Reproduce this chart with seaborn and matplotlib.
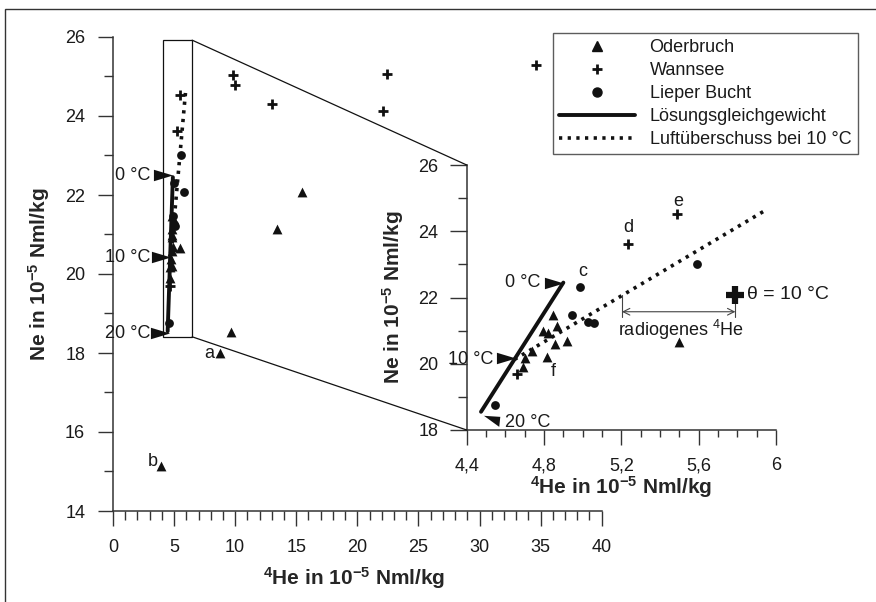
import matplotlib
matplotlib.use('Agg')
import matplotlib.pyplot as plt
import seaborn as sns
from matplotlib.lines import Line2D
from matplotlib.patches import Rectangle, ConnectionPatch
from matplotlib.ticker import MultipleLocator

# Oderbruch (triangles)
oder_he = [4.849, 4.866, 4.797, 4.823, 4.918, 4.858, 4.737, 4.702, 4.814, 4.69, 5.496,
           15.5, 13.4, 9.67, 8.72, 3.9]
oder_ne = [21.47, 21.14, 20.99, 20.94, 20.69, 20.59, 20.39, 20.17, 20.20, 19.89, 20.67,
           22.07, 21.14, 18.53, 17.99, 15.15]
# Wannsee (crosses)
wann_he = [4.66, 5.234, 5.488, 9.86, 10.0, 13.0, 22.46, 22.1, 34.6]
wann_ne = [19.69, 23.61, 24.52, 25.04, 24.78, 24.30, 25.06, 24.13, 25.29]
# Lieper Bucht (circles)
lieper_he = [4.987, 4.947, 5.03, 5.056, 4.547, 5.59]
lieper_ne = [22.31, 21.47, 21.27, 21.22, 18.76, 23.0]
# sample with theta = 10 °C
theta_he = [5.79]
theta_ne = [22.08]

# Lösungsgleichgewicht und Luftüberschuss bei 10 °C
sol_he = [4.474, 4.90]
sol_ne = [18.55, 22.45]
air_he = [4.647, 5.95]
air_ne = [20.13, 24.65]

# temperature markers
temp_labels = ['0 °C', '10 °C', '20 °C']
temp_he_main = [4.06, 3.89, 3.81]
temp_ne_main = [22.5, 20.42, 18.5]
temp_he_in = [4.85, 4.601, 4.541]
temp_ne_in = [22.45, 20.17, 18.33]

# radiogenic excess
radio_he = [5.203, 5.79]
radio_ne = 21.57

main_xticks = [0, 5, 10, 15, 20, 25, 30, 35, 40]
main_yticks = [14, 16, 18, 20, 22, 24, 26]
in_xticks = [4.4, 4.8, 5.2, 5.6, 6.0]
in_xlabels = ['4,4', '4,8', '5,2', '5,6', '6']
in_yticks = [18, 20, 22, 24, 26]

sns.set_style('ticks')
plt.rcParams['font.family'] = ['Liberation Sans', 'DejaVu Sans']
plt.rcParams['font.size'] = 13
plt.rcParams['mathtext.fontset'] = 'custom'
plt.rcParams['mathtext.rm'] = 'Liberation Sans'
plt.rcParams['mathtext.it'] = 'Liberation Sans:italic'
plt.rcParams['mathtext.bf'] = 'Liberation Sans:bold'
plt.rcParams['text.color'] = '#1a1a1a'
plt.rcParams['axes.edgecolor'] = '#333333'
plt.rcParams['xtick.color'] = '#333333'
plt.rcParams['ytick.color'] = '#333333'
plt.rcParams['xtick.labelcolor'] = '#1a1a1a'
plt.rcParams['ytick.labelcolor'] = '#1a1a1a'

K = '#111111'
arrow_r = [(-1, -0.6), (1, 0), (-1, 0.6)]
arrow_dr = [(-1, 0.35), (0.55, 0.25), (0.45, -0.7)]
he_label = r'$\mathbf{^{4}}$He in 10$\mathbf{^{-5}}$ Nml/kg'
ne_label = r'Ne in 10$\mathbf{^{-5}}$ Nml/kg'
LAB = 15

fig = plt.figure(figsize=(8.76, 6.02), dpi=100)
ax = fig.add_axes([113 / 876, 1 - 511 / 602, 488.7 / 876, 474 / 602])
ax_in = fig.add_axes([466.7 / 876, 1 - 430 / 602, 309.3 / 876, 265 / 602])


def draw_data(a):
    sns.lineplot(x=sol_he, y=sol_ne, color=K, lw=2.8, ax=a)
    sns.lineplot(x=air_he, y=air_ne, color=K, lw=2.6, linestyle=(0, (0.9, 1.5)), ax=a)
    sns.scatterplot(x=oder_he, y=oder_ne, marker='^', s=50, color=K, linewidth=0, ax=a, zorder=3)
    sns.scatterplot(x=wann_he, y=wann_ne, marker='+', s=50, color=K, linewidth=2, ax=a, zorder=3)
    sns.scatterplot(x=lieper_he, y=lieper_ne, marker='o', s=40, color=K, linewidth=0, ax=a, zorder=3)


# main plot
draw_data(ax)
sns.scatterplot(x=theta_he, y=theta_ne, marker='o', s=40, color=K, linewidth=0, ax=ax, zorder=3)
sns.scatterplot(x=temp_he_main, y=temp_ne_main, marker=arrow_r, s=190, color=K, linewidth=0,
                ax=ax, zorder=4)
for lab, yv in zip(temp_labels, temp_ne_main):
    ax.text(3.03, yv, lab, ha='right', va='center', fontsize=13)
ax.text(8.28, 18.0, 'a', ha='right', va='center', fontsize=13)
ax.text(3.69, 15.25, 'b', ha='right', va='center', fontsize=13)

ax.set_xlim(0, 40)
ax.set_ylim(14, 26)
ax.set_xticks(main_xticks)
ax.set_yticks(main_yticks)
ax.xaxis.set_minor_locator(MultipleLocator(1))
ax.yaxis.set_minor_locator(MultipleLocator(1))
ax.tick_params(which='major', direction='out', length=11, width=1, pad=9, labelsize=13)
ax.tick_params(which='minor', direction='out', length=6.5, width=1)
sns.despine(ax=ax)
for s in ['left', 'bottom']:
    ax.spines[s].set_linewidth(1.1)
ax.set_xlabel(he_label, fontsize=LAB, fontweight='bold')
ax.set_ylabel(ne_label, fontsize=LAB, fontweight='bold')
ax.xaxis.set_label_coords(0.493, -0.114)
ax.yaxis.set_label_coords(-0.125, 0.5)
ax.add_patch(Rectangle((4.1, 18.41), 2.38, 7.51, fill=False, lw=0.9, ec=K, zorder=2))

# inset
draw_data(ax_in)
sns.scatterplot(x=theta_he, y=theta_ne, marker='+', s=150, color=K, linewidth=4.5, ax=ax_in, zorder=4)
sns.scatterplot(x=temp_he_in[:2], y=temp_ne_in[:2], marker=arrow_r, s=190, color=K, linewidth=0,
                ax=ax_in, zorder=4)
sns.scatterplot(x=temp_he_in[2:], y=temp_ne_in[2:], marker=arrow_dr, s=230, color=K, linewidth=0,
                ax=ax_in, zorder=4)
ax_in.text(4.78, 22.45, temp_labels[0], ha='right', va='center', fontsize=13)
ax_in.text(4.536, 20.12, temp_labels[1], ha='right', va='center', fontsize=13)
ax_in.text(4.599, 18.22, temp_labels[2], ha='left', va='center', fontsize=13)
for lab, xv, yv in zip(['c', 'd', 'e', 'f'], [4.998, 5.236, 5.495, 4.847],
                       [22.77, 24.1, 24.9, 19.76]):
    ax_in.text(xv, yv, lab, ha='center', va='center', fontsize=13)

ax_in.annotate('', xy=(radio_he[0], radio_ne), xytext=(radio_he[1], radio_ne),
               arrowprops=dict(arrowstyle='<->', color='#444444', lw=0.8,
                               shrinkA=0, shrinkB=0, mutation_scale=12))
ax_in.plot([radio_he[0], radio_he[0]], [22.08, 21.4], color='#444444', lw=0.8)
ax_in.plot([radio_he[1], radio_he[1]], [22.0, 21.4], color='#444444', lw=0.8)
ax_in.text(5.506, 21.02, r'radiogenes $^{4}$He', ha='center', va='center', fontsize=13)
ax_in.text(5.85, 22.1, 'θ = 10 °C', ha='left', va='center', fontsize=14)

ax_in.set_xlim(4.4, 6.0)
ax_in.set_ylim(18, 26)
ax_in.set_xticks(in_xticks)
ax_in.set_xticklabels(in_xlabels)
ax_in.set_yticks(in_yticks)
ax_in.xaxis.set_minor_locator(MultipleLocator(0.1))
ax_in.yaxis.set_minor_locator(MultipleLocator(1))
ax_in.tick_params(axis='x', which='major', direction='out', length=11, width=1, pad=8.5, labelsize=13)
ax_in.tick_params(axis='x', which='minor', direction='out', length=5, width=1)
ax_in.tick_params(axis='y', which='major', direction='out', length=12, width=1, pad=8.5, labelsize=13)
ax_in.tick_params(axis='y', which='minor', direction='out', length=6.5, width=1)
sns.despine(ax=ax_in)
ax_in.patch.set_alpha(0)
for s in ['left', 'bottom']:
    ax_in.spines[s].set_linewidth(1.1)
ax_in.set_xlabel(he_label, fontsize=LAB, fontweight='bold')
ax_in.set_ylabel(ne_label, fontsize=LAB, fontweight='bold')
ax_in.xaxis.set_label_coords(0.5, -0.165)
ax_in.yaxis.set_label_coords(-0.196, 0.5)

# zoom connectors
for pa, pb in [((6.48, 25.92), (0, 1)), ((6.48, 18.41), (0, 0))]:
    con = ConnectionPatch(xyA=pa, coordsA=ax.transData, xyB=pb, coordsB=ax_in.transAxes,
                          color=K, lw=0.9)
    fig.add_artist(con)

# legend
handles = [
    Line2D([], [], ls='none', marker='^', ms=7, color=K),
    Line2D([], [], ls='none', marker='+', ms=7, mew=2, color=K),
    Line2D([], [], ls='none', marker='o', ms=6.5, color=K),
    Line2D([], [], ls='-', lw=2.8, color=K),
    Line2D([], [], ls=(0, (0.9, 1.5)), lw=2.6, color=K),
]
labels = ['Oderbruch', 'Wannsee', 'Lieper Bucht', 'Lösungsgleichgewicht', 'Luftüberschuss bei 10 °C']
leg = fig.legend(handles, labels, loc='upper left', bbox_to_anchor=(553 / 876, 1 - 33 / 602),
                 fontsize=13, frameon=True, fancybox=False, shadow=False, handlelength=4.2,
                 handletextpad=0.8, labelspacing=0.33, borderpad=0.35, borderaxespad=0)
leg.get_frame().set_edgecolor('#333333')
leg.get_frame().set_linewidth(1)

# figure frame (top and left edges visible)
fig.add_artist(Rectangle((5 / 876, -0.1), 1.2, 1.1 - 9 / 602, transform=fig.transFigure,
                         fill=False, ec='#333333', lw=1))

fig.savefig('out.png', dpi=100)
